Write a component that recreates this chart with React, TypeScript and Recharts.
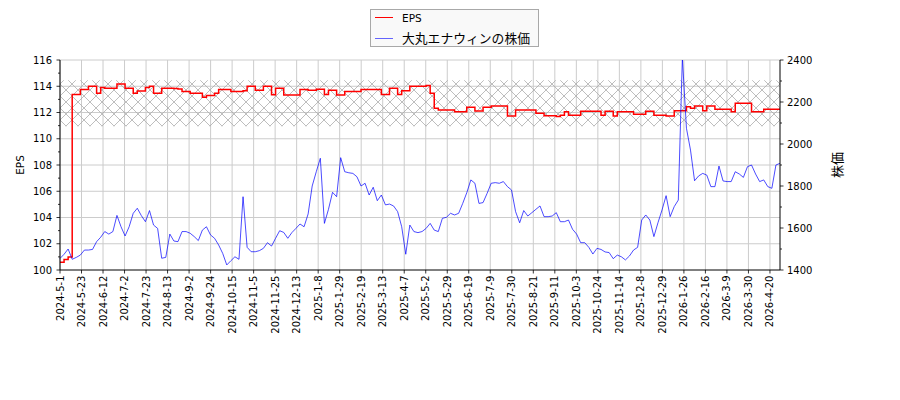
import React from 'react';
import { ComposedChart, Line, XAxis, YAxis, CartesianGrid, ReferenceArea } from 'recharts';

// Tick labels: one every 15 trading days
const tickDates = [
  '2024-5-1', '2024-5-23', '2024-6-12', '2024-7-2', '2024-7-23', '2024-8-13', '2024-9-2', '2024-9-24',
  '2024-10-15', '2024-11-5', '2024-11-25', '2024-12-13', '2025-1-8', '2025-1-29', '2025-2-19', '2025-3-13',
  '2025-4-7', '2025-5-2', '2025-5-29', '2025-6-19', '2025-7-9', '2025-7-30', '2025-8-21', '2025-9-11',
  '2025-10-3', '2025-10-24', '2025-11-14', '2025-12-8', '2025-12-29', '2026-1-26', '2026-2-16', '2026-3-9',
  '2026-3-30', '2026-4-20',
];
const LAST_TRADING_DAY = 502;
const TICK_EVERY = 15;

// EPS (left axis), sampled evenly over the period
const epsValues = [
  100.6, 100.8, 101.0, 113.38, 113.38, 113.76, 113.76, 114.0, 114.0, 113.46,
  113.9, 113.84, 113.84, 113.84, 114.17, 114.17, 113.84, 113.84, 113.46, 113.64,
  113.64, 113.9, 114.0, 113.46, 113.46, 113.84, 113.84, 113.84, 113.82, 113.8,
  113.6, 113.6, 113.46, 113.46, 113.46, 113.16, 113.3, 113.3, 113.46, 113.76,
  113.76, 113.76, 113.6, 113.6, 113.6, 113.66, 114.0, 114.0, 113.7, 113.7,
  114.0, 114.0, 113.36, 113.84, 113.84, 113.33, 113.33, 113.33, 113.33, 113.76,
  113.76, 113.7, 113.7, 113.78, 113.78, 113.38, 113.7, 113.7, 113.33, 113.33,
  113.6, 113.6, 113.6, 113.6, 113.76, 113.76, 113.76, 113.76, 113.76, 113.38,
  113.38, 113.84, 113.84, 113.38, 113.66, 113.66, 114.0, 114.0, 114.0, 114.0,
  114.05, 113.46, 112.32, 112.19, 112.19, 112.19, 112.19, 112.06, 112.06, 112.06,
  112.4, 112.4, 112.12, 112.12, 112.4, 112.4, 112.5, 112.5, 112.5, 112.5,
  111.73, 111.73, 112.19, 112.19, 112.19, 112.19, 112.19, 111.94, 111.94, 111.76,
  111.76, 111.76, 111.7, 111.8, 112.06, 111.8, 111.8, 111.8, 112.1, 112.1,
  112.1, 112.1, 112.1, 111.8, 112.1, 112.1, 111.73, 112.06, 112.06, 112.06,
  112.06, 111.86, 111.86, 111.86, 112.1, 112.1, 111.8, 111.8, 111.8, 111.73,
  111.73, 112.14, 112.14, 112.14, 112.44, 112.32, 112.5, 112.5, 112.14, 112.5,
  112.5, 112.24, 112.24, 112.24, 112.24, 112.06, 112.7, 112.7, 112.7, 112.7,
  112.06, 112.06, 112.06, 112.24, 112.24, 112.24, 112.24, 112.24,
];

// Share price (right axis), same sampling
const priceValues = [
  1455, 1475, 1500, 1451, 1460, 1471, 1495, 1495, 1498, 1535,
  1556, 1583, 1571, 1583, 1660, 1606, 1562, 1606, 1670, 1694,
  1659, 1630, 1683, 1614, 1598, 1456, 1460, 1571, 1538, 1535,
  1583, 1583, 1575, 1559, 1540, 1590, 1606, 1567, 1551, 1519,
  1479, 1424, 1444, 1463, 1451, 1749, 1508, 1487, 1487, 1492,
  1503, 1530, 1514, 1551, 1587, 1579, 1551, 1578, 1598, 1619,
  1606, 1667, 1800, 1868, 1932, 1622, 1689, 1770, 1749, 1935,
  1868, 1863, 1860, 1844, 1800, 1813, 1757, 1794, 1730, 1757,
  1710, 1714, 1705, 1678, 1606, 1475, 1614, 1583, 1578, 1583,
  1598, 1622, 1590, 1583, 1646, 1651, 1670, 1662, 1670, 1717,
  1768, 1829, 1813, 1717, 1721, 1765, 1813, 1816, 1813, 1821,
  1797, 1781, 1678, 1625, 1683, 1657, 1673, 1689, 1705, 1654,
  1654, 1657, 1673, 1630, 1630, 1638, 1594, 1571, 1530, 1530,
  1508, 1476, 1503, 1498, 1486, 1483, 1454, 1471, 1463, 1448,
  1467, 1495, 1508, 1638, 1662, 1638, 1559, 1625, 1686, 1754,
  1654, 1702, 1733, 2410, 2075, 1971, 1825, 1848, 1860, 1852,
  1797, 1797, 1895, 1824, 1821, 1821, 1868, 1857, 1841, 1892,
  1900, 1857, 1821, 1829, 1797, 1789, 1900, 1908,
];

const epsTicks = [100, 101, 102, 103, 104, 105, 106, 107, 108, 109, 110, 111, 112, 113, 114, 115, 116];
const epsGrid = [102, 104, 106, 108, 110, 112, 114, 116];
const priceTicks = [1400, 1500, 1600, 1700, 1800, 1900, 2000, 2100, 2200, 2300, 2400];
const BAND_LOW = 110.95;
const BAND_HIGH = 114.45;

const step = LAST_TRADING_DAY / (priceValues.length - 1);
const data = priceValues.map((p, k) => ({ day: k * step, eps: epsValues[k], price: p }));
const xTicks = tickDates.map((_, j) => j * TICK_EVERY);

const FONT = '"DejaVu Sans", sans-serif';
const JP_FONT = '"Noto Sans CJK JP", "DejaVu Sans", sans-serif';
const TS = 4;
const LM = 4;
const RM = 3;
const BM = 1.5;

const LeftTick = (props: any) => {
  const { x, y, payload } = props;
  const v = payload.value;
  const major = v % 2 === 0;
  const ax = x + TS + LM;
  return (
    <g>
      <line x1={ax - (major ? 3.5 : 2)} x2={ax} y1={y} y2={y} stroke="#000" strokeWidth={0.8} />
      {major && (
        <text x={x} y={y} dy="0.35em" textAnchor="end" fontSize={10} fontFamily={FONT} fill="#000">
          {v}
        </text>
      )}
    </g>
  );
};

const RightTick = (props: any) => {
  const { x, y, payload } = props;
  const v = payload.value;
  const major = v % 200 === 0;
  const ax = x - TS - RM;
  return (
    <g>
      <line x1={ax} x2={ax + (major ? 3.5 : 2)} y1={y} y2={y} stroke="#000" strokeWidth={0.8} />
      {major && (
        <text x={x} y={y} dy="0.35em" textAnchor="start" fontSize={10} fontFamily={FONT} fill="#000">
          {v}
        </text>
      )}
    </g>
  );
};

const BottomTick = (props: any) => {
  const { x, y, payload } = props;
  const idx = Math.round(payload.value / TICK_EVERY);
  const ay = y - TS - BM;
  return (
    <g>
      <line x1={x} x2={x} y1={ay} y2={ay + 3.5} stroke="#000" strokeWidth={0.8} />
      <text
        x={x}
        y={y}
        transform={`rotate(-90 ${x} ${y})`}
        textAnchor="end"
        dominantBaseline="central"
        fontSize={10}
        fontFamily={FONT}
        fill="#000"
      >
        {tickDates[idx]}
      </text>
    </g>
  );
};

export default function App() {
  return (
    <div style={{ position: 'absolute', left: 0, top: 0, width: 900, height: 400, background: '#fff' }}>
      <ComposedChart width={900} height={400} data={data} margin={{ top: 60, right: 60, left: 0, bottom: 60 }}>
        <defs>
          <pattern id="hatch" width="12" height="12" patternUnits="userSpaceOnUse">
            <path d="M0,0 L12,12 M12,0 L0,12" stroke="#a8a8a8" strokeWidth={0.75} fill="none" />
          </pattern>
        </defs>
        <CartesianGrid
          yAxisId="eps"
          horizontalValues={epsGrid}
          verticalValues={xTicks}
          stroke="#cccccc"
          strokeWidth={1}
        />
        <XAxis
          dataKey="day"
          type="number"
          domain={[0, LAST_TRADING_DAY]}
          ticks={xTicks}
          interval={0}
          tick={(p: any) => <BottomTick {...p} />}
          tickLine={false}
          tickSize={TS}
          tickMargin={BM}
          height={70}
          axisLine={{ stroke: '#000', strokeWidth: 1 }}
        />
        <YAxis
          yAxisId="eps"
          orientation="left"
          domain={[100, 116]}
          ticks={epsTicks}
          interval={0}
          width={60}
          tick={(p: any) => <LeftTick {...p} />}
          tickLine={false}
          tickSize={TS}
          tickMargin={LM}
          axisLine={{ stroke: '#000', strokeWidth: 1 }}
        />
        <YAxis
          yAxisId="price"
          orientation="right"
          domain={[1400, 2400]}
          allowDataOverflow
          ticks={priceTicks}
          interval={0}
          width={60}
          tick={(p: any) => <RightTick {...p} />}
          tickLine={false}
          tickSize={TS}
          tickMargin={RM}
          axisLine={{ stroke: '#000', strokeWidth: 1 }}
        />
        <ReferenceArea
          yAxisId="eps"
          y1={BAND_LOW}
          y2={BAND_HIGH}
          fill="url(#hatch)"
          fillOpacity={1}
          stroke="none"
        />
        <Line
          yAxisId="eps"
          type="stepAfter"
          dataKey="eps"
          stroke="#ff0000"
          strokeWidth={1.5}
          dot={false}
          isAnimationActive={false}
        />
        <Line
          yAxisId="price"
          type="linear"
          dataKey="price"
          stroke="#0000ff"
          strokeOpacity={0.7}
          strokeWidth={1}
          dot={false}
          isAnimationActive={false}
        />
      </ComposedChart>

      <div
        style={{
          position: 'absolute',
          left: 20,
          top: 165,
          transform: 'translate(-50%, -50%) rotate(-90deg)',
          fontFamily: FONT,
          fontSize: 10.5,
          whiteSpace: 'nowrap',
          color: '#000',
        }}
      >
        EPS
      </div>
      <div
        style={{
          position: 'absolute',
          left: 836,
          top: 165,
          transform: 'translate(-50%, -50%) rotate(-90deg)',
          fontFamily: JP_FONT,
          fontSize: 13,
          whiteSpace: 'nowrap',
          color: '#000',
        }}
      >
        株価
      </div>

      <div
        style={{
          position: 'absolute',
          left: 370,
          top: 9,
          width: 169,
          height: 38,
          border: '1px solid #a8a8a8',
          background: '#f9f9f9',
          boxSizing: 'border-box',
        }}
      >
        <div style={{ position: 'absolute', left: 4, top: 7, width: 18, height: 0, borderTop: '1.5px solid #ff0000' }} />
        <div
          style={{
            position: 'absolute',
            left: 31,
            top: 1,
            fontFamily: FONT,
            fontSize: 10.5,
            lineHeight: '14px',
            color: '#000',
          }}
        >
          EPS
        </div>
        <div
          style={{
            position: 'absolute',
            left: 4,
            top: 28,
            width: 18,
            height: 0,
            borderTop: '1.5px solid rgba(0,0,255,0.6)',
          }}
        />
        <div
          style={{
            position: 'absolute',
            left: 31,
            top: 19,
            fontFamily: JP_FONT,
            fontSize: 12.8,
            lineHeight: '17px',
            color: '#000',
            whiteSpace: 'nowrap',
          }}
        >
          大丸エナウィンの株価
        </div>
      </div>
    </div>
  );
}
